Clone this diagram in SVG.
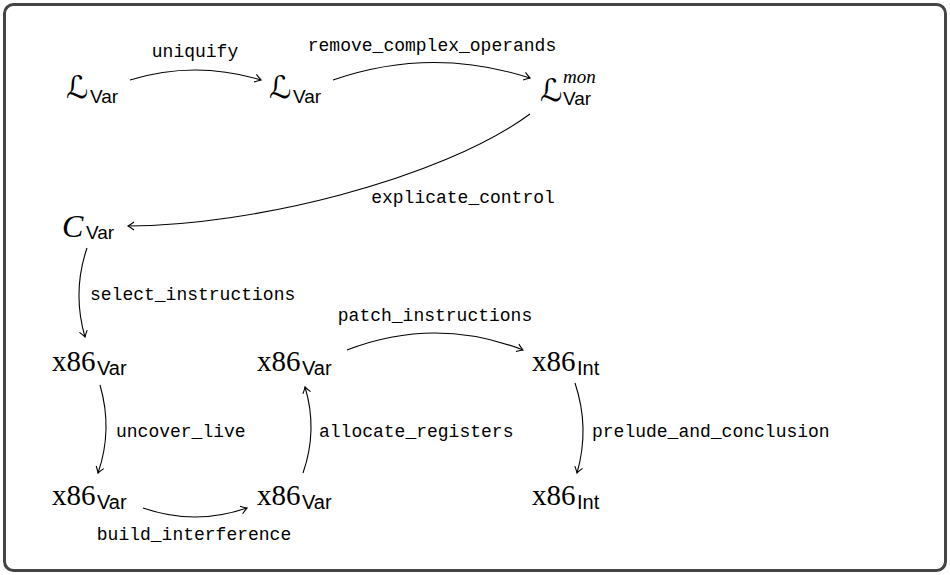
<svg xmlns="http://www.w3.org/2000/svg" width="950" height="575" viewBox="0 0 950 575">
<style>
.lbl{font-family:"Liberation Mono","DejaVu Sans Mono",monospace;font-size:18px;fill:#000;text-anchor:middle}
.lbl-l{font-family:"Liberation Mono","DejaVu Sans Mono",monospace;font-size:18px;fill:#000;text-anchor:start}
.scr{font-family:"DejaVu Sans","DejaVu Serif",serif;font-size:31px;fill:#000}
.cal{font-family:"Liberation Serif",serif;font-style:italic;font-size:32px;fill:#000}
.x86{font-family:"Liberation Serif",serif;font-size:29px;fill:#000}
.sub{font-family:"Liberation Sans",Arial,sans-serif;font-size:19px;fill:#000}
.sub2{font-family:"Liberation Sans",Arial,sans-serif;font-size:20px;fill:#000}
.sup{font-family:"Liberation Serif",serif;font-style:italic;font-size:19px;fill:#000}
.edge{fill:none;stroke:#000;stroke-width:1.1;marker-end:url(#arr)}
</style>
<defs>
<marker id="arr" markerWidth="12" markerHeight="12" refX="0" refY="0" viewBox="-8 -6 10 12" orient="auto" markerUnits="userSpaceOnUse">
<path d="M-6,-4 Q-2,-1 0,0 Q-2,1 -6,4" fill="none" stroke="#000" stroke-width="1.1"/>
</marker>
</defs>
<rect x="4.5" y="4.5" width="941" height="566" rx="9" ry="9" fill="#fff" stroke="#444" stroke-width="3"/>

<g id="connectors">
<path class="edge" d="M130,80 Q195,60 261,80"/>
<path class="edge" d="M333,80 Q431,46 530,78"/>
<path class="edge" d="M530,114 C440,180 250,226 128,226"/>
<path class="edge" d="M87,248 Q72,292 85,337"/>
<path class="edge" d="M100,385 Q113,430 98,473"/>
<path class="edge" d="M143,508 Q195,526 247,508"/>
<path class="edge" d="M303,473 Q318,430 305,387"/>
<path class="edge" d="M347,350 Q435,316 523,350"/>
<path class="edge" d="M575,383 Q590,428 577,473"/>
<g id="edge-labels">
<text class="lbl" x="195" y="57">uniquify</text>
<text class="lbl" x="432" y="51">remove_complex_operands</text>
<text class="lbl" x="463" y="203">explicate_control</text>
<text class="lbl-l" x="90" y="300">select_instructions</text>
<text class="lbl-l" x="116" y="437">uncover_live</text>
<text class="lbl" x="194" y="540">build_interference</text>
<text class="lbl-l" x="319" y="437">allocate_registers</text>
<text class="lbl" x="435" y="321">patch_instructions</text>
<text class="lbl-l" x="592" y="437">prelude_and_conclusion</text>
</g>
</g>

<g id="n-lvar1"><text class="scr" x="66" y="98">ℒ</text><text class="sub" x="90" y="103">Var</text></g>
<g id="n-lvar2"><text class="scr" x="269" y="98">ℒ</text><text class="sub" x="293" y="103">Var</text></g>
<g id="n-lmon"><text class="scr" x="540" y="101">ℒ</text><text class="sup" x="563" y="83">mon</text><text class="sub" x="563" y="105">Var</text></g>
<g id="n-cvar"><text class="cal" x="62" y="237">C</text><text class="sub" x="86" y="239">Var</text></g>
<g id="n-x86var1"><text class="x86" x="52" y="371">x86</text><text class="sub2" x="97" y="375">Var</text></g>
<g id="n-x86var2"><text class="x86" x="257" y="371">x86</text><text class="sub2" x="302" y="375">Var</text></g>
<g id="n-x86int1"><text class="x86" x="532" y="371">x86</text><text class="sub2" x="577" y="375">Int</text></g>
<g id="n-x86var3"><text class="x86" x="52" y="505">x86</text><text class="sub2" x="97" y="509">Var</text></g>
<g id="n-x86var4"><text class="x86" x="257" y="505">x86</text><text class="sub2" x="302" y="509">Var</text></g>
<g id="n-x86int2"><text class="x86" x="532" y="505">x86</text><text class="sub2" x="577" y="509">Int</text></g>
</svg>
